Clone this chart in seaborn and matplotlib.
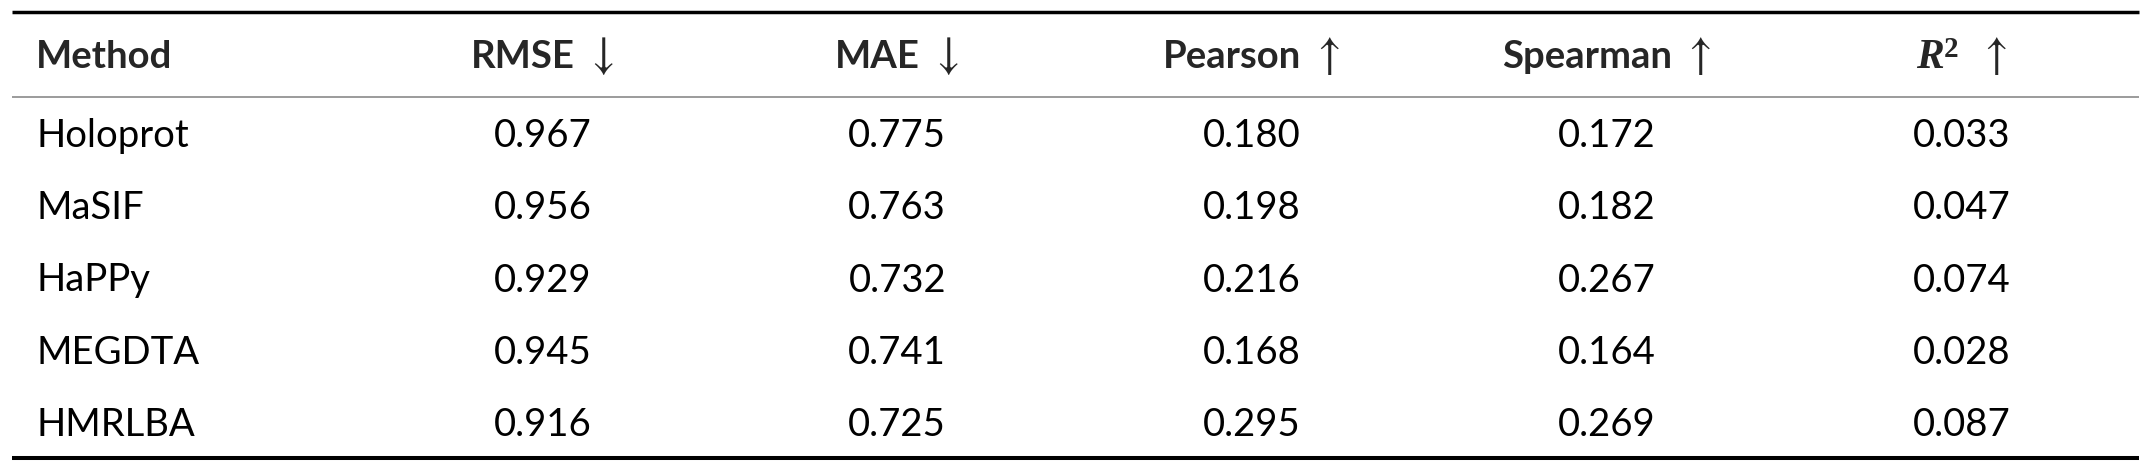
import pandas as pd
import seaborn as sns
import matplotlib.pyplot as plt
from matplotlib.colors import ListedColormap
from matplotlib.lines import Line2D
from matplotlib import transforms

methods = ['Holoprot', 'MaSIF', 'HaPPy', 'MEGDTA', 'HMRLBA']
metrics = ['RMSE', 'MAE', 'Pearson', 'Spearman', 'R2']
arrows = [r'$\downarrow$', r'$\downarrow$', r'$\uparrow$', r'$\uparrow$', r'$\uparrow$']
rmse = [0.967, 0.956, 0.929, 0.945, 0.916]
mae = [0.775, 0.763, 0.732, 0.741, 0.725]
pearson = [0.180, 0.198, 0.216, 0.168, 0.295]
spearman = [0.172, 0.182, 0.267, 0.164, 0.269]
r2 = [0.033, 0.047, 0.074, 0.028, 0.087]

df = pd.DataFrame({'RMSE': rmse, 'MAE': mae, 'Pearson': pearson,
                   'Spearman': spearman, 'R2': r2}, index=methods)

sns.set_theme(style='white')
plt.rcParams['font.family'] = ['Lato', 'DejaVu Sans']
plt.rcParams['mathtext.fontset'] = 'stix'

W, H = 2152, 468
fig = plt.figure(figsize=(W / 100, H / 100), dpi=100)

# layout, in pixels from the top left
x0, x1 = 12, 2139
col_left = 365
top_rule, mid_rule, bot_rule = 11.5, 97, 458
head_base = 68
fs = 27.5

def fx(px):
    return px / W

def fy(py):
    return 1 - py / H

ax = fig.add_axes([fx(col_left), fy(bot_rule),
                   fx(x1) - fx(col_left), fy(mid_rule) - fy(bot_rule)])

# drop text from the cell centre down to a baseline
shift = transforms.ScaledTranslation(0, -14 / 100, fig.dpi_scale_trans)

sns.heatmap(df, ax=ax, cmap=ListedColormap(['white']), cbar=False,
            annot=True, fmt='.3f',
            annot_kws=dict(fontsize=fs, family='Lato', color='black',
                           va='baseline', transform=ax.transData + shift))
ax.axis('off')

# method names, left aligned in the first column
row_tr = transforms.blended_transform_factory(fig.transFigure, ax.transData) + shift
for i, m in enumerate(methods):
    ax.text(fx(36), i + 0.5, m, transform=row_tr, fontsize=fs,
            family='Lato', color='black', va='baseline', ha='left', clip_on=False)

# header row
fig.text(fx(36), fy(head_base), 'Method', fontsize=fs, family='Lato',
         fontweight='bold', va='baseline', ha='left')

renderer = fig.canvas.get_renderer()
bold = dict(fontsize=fs, family='Lato', fontweight='bold')
plain = dict(fontsize=fs, family='Lato')
arrow_kw = dict(fontsize=33)

for i, (name, arr) in enumerate(zip(metrics, arrows)):
    if name == 'R2':
        pieces = [('R', dict(fontsize=30, family='Liberation Serif',
                             fontweight='bold', fontstyle='italic'), 0),
                  ('2', dict(fontsize=21, family='Liberation Serif',
                             fontweight='bold'), -11),
                  ('  ', plain, 0), (arr, arrow_kw, 0)]
    else:
        pieces = [(name, bold, 0), (' ', plain, 0), (arr, arrow_kw, 0)]
    cx = ax.transData.transform((i + 0.5, 0))[0]
    arts = [fig.text(0, fy(head_base + dy), s, va='baseline', ha='left', **kw)
            for s, kw, dy in pieces]
    widths = [t.get_window_extent(renderer).width for t in arts]
    x = cx - sum(widths) / 2
    for t, w in zip(arts, widths):
        t.set_x(x / W)
        x += w

# booktabs style rules
for y, lw, c in [(top_rule, 2.5, 'black'), (mid_rule, 1.1, '#808080'),
                 (bot_rule, 2.9, 'black')]:
    fig.add_artist(Line2D([fx(x0), fx(x1)], [fy(y), fy(y)],
                          transform=fig.transFigure, color=c, lw=lw,
                          solid_capstyle='butt'))

fig.savefig('out.png', dpi=100)
